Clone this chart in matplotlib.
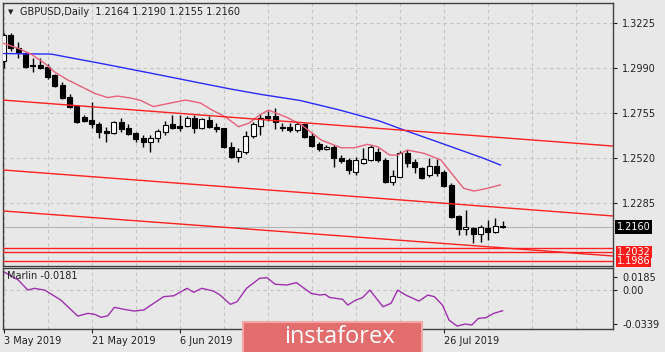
import matplotlib
matplotlib.use("Agg")
import matplotlib.pyplot as plt
from matplotlib.patches import Rectangle
from matplotlib.transforms import blended_transform_factory

# GBPUSD daily candles, 3 May 2019 .. 7 Aug 2019
opens = [1.3028, 1.3164, 1.3096, 1.3070, 1.3007, 1.3007, 1.2997, 1.2955, 1.2903, 1.2840,
         1.2793, 1.2735, 1.2720, 1.2699, 1.2662, 1.2652, 1.2709, 1.2678, 1.2652, 1.2627,
         1.2605, 1.2626, 1.2657, 1.2699, 1.2688, 1.2690, 1.2732, 1.2678, 1.2720, 1.2682,
         1.2677, 1.2580, 1.2528, 1.2551, 1.2638, 1.2690, 1.2742, 1.2742, 1.2685, 1.2685,
         1.2668, 1.2697, 1.2638, 1.2593, 1.2567, 1.2580, 1.2523, 1.2511, 1.2450, 1.2494,
         1.2511, 1.2554, 1.2511, 1.2398, 1.2424, 1.2549, 1.2499, 1.2468, 1.2433, 1.2480,
         1.2450, 1.2381, 1.2219, 1.2149, 1.2155, 1.2125, 1.2155, 1.2137, 1.2164]
highs = [1.3174, 1.3174, 1.3127, 1.3075, 1.3044, 1.3044, 1.3012, 1.2960, 1.2918, 1.2856,
         1.2798, 1.2746, 1.2814, 1.2709, 1.2683, 1.2714, 1.2730, 1.2699, 1.2657, 1.2641,
         1.2641, 1.2673, 1.2714, 1.2746, 1.2746, 1.2742, 1.2746, 1.2732, 1.2742, 1.2704,
         1.2678, 1.2603, 1.2574, 1.2662, 1.2711, 1.2751, 1.2767, 1.2782, 1.2704, 1.2702,
         1.2709, 1.2704, 1.2652, 1.2603, 1.2589, 1.2589, 1.2537, 1.2520, 1.2528, 1.2572,
         1.2589, 1.2572, 1.2520, 1.2459, 1.2560, 1.2563, 1.2515, 1.2476, 1.2520, 1.2515,
         1.2459, 1.2389, 1.2224, 1.2250, 1.2163, 1.2172, 1.2198, 1.2207, 1.2190]
lows = [1.2991, 1.3080, 1.3044, 1.2991, 1.2970, 1.2988, 1.2934, 1.2892, 1.2832, 1.2782,
        1.2704, 1.2709, 1.2678, 1.2626, 1.2605, 1.2647, 1.2657, 1.2644, 1.2605, 1.2579,
        1.2553, 1.2605, 1.2641, 1.2673, 1.2662, 1.2685, 1.2652, 1.2673, 1.2677, 1.2659,
        1.2574, 1.2520, 1.2502, 1.2541, 1.2627, 1.2641, 1.2714, 1.2673, 1.2662, 1.2657,
        1.2659, 1.2628, 1.2580, 1.2558, 1.2563, 1.2476, 1.2494, 1.2436, 1.2433, 1.2489,
        1.2506, 1.2502, 1.2389, 1.2381, 1.2421, 1.2473, 1.2445, 1.2410, 1.2424, 1.2427,
        1.2369, 1.2207, 1.2120, 1.2120, 1.2076, 1.2085, 1.2093, 1.2132, 1.2155]
closes = [1.3164, 1.3096, 1.3075, 1.2997, 1.3004, 1.2991, 1.2944, 1.2897, 1.2835, 1.2788,
          1.2709, 1.2714, 1.2699, 1.2657, 1.2652, 1.2709, 1.2673, 1.2647, 1.2621, 1.2607,
          1.2626, 1.2662, 1.2694, 1.2678, 1.2678, 1.2732, 1.2677, 1.2725, 1.2682, 1.2671,
          1.2580, 1.2528, 1.2558, 1.2638, 1.2697, 1.2729, 1.2732, 1.2711, 1.2677, 1.2668,
          1.2697, 1.2633, 1.2586, 1.2568, 1.2577, 1.2520, 1.2507, 1.2459, 1.2511, 1.2516,
          1.2580, 1.2511, 1.2398, 1.2427, 1.2549, 1.2497, 1.2473, 1.2415, 1.2480, 1.2445,
          1.2375, 1.2212, 1.2149, 1.2160, 1.2125, 1.2160, 1.2137, 1.2166, 1.2160]

# date labels; the ones under the watermark are not visible in the picture
date_ticks = [0, 12, 24, 36, 48, 60]
date_labels = ["3 May 2019", "21 May 2019", "6 Jun 2019", "", "", "26 Jul 2019"]
price_ticks = [1.3225, 1.2990, 1.2755, 1.2520, 1.2285]

# moving averages, sampled along the drawn lines (bar index, price)
ma_blue_x = [0, 6.5, 13.3, 20, 26.8, 30.9, 35, 40.4, 45.8, 51.2, 54.6, 59.7, 65.4, 67.7]
ma_blue_y = [1.3067, 1.3064, 1.3015, 1.2965, 1.2913, 1.2882, 1.2854, 1.2822, 1.2772,
             1.2715, 1.2667, 1.2598, 1.2520, 1.2485]
ma_pink_x = [0, 2.0, 3.8, 5.6, 6.9, 8.75, 10.6, 12.4, 14.2, 15.5, 17.3, 18.7, 20.4, 22.8,
             24.8, 26.8, 28.4, 30.2, 32.0, 33.4, 34.9, 36.1, 37.2, 38.8, 40.6, 43.3, 46.0,
             47.8, 49.6, 51.0, 52.6, 53.7, 55.0, 57.3, 59.6, 61.4, 62.7, 64.1, 65.9, 67.7]
ma_pink_y = [1.3120, 1.3094, 1.3063, 1.3016, 1.2972, 1.2929, 1.2894, 1.2859, 1.2837,
             1.2845, 1.2835, 1.2822, 1.2790, 1.2809, 1.2824, 1.2809, 1.2772, 1.2737,
             1.2685, 1.2703, 1.2746, 1.2772, 1.2755, 1.2730, 1.2694, 1.2615, 1.2575,
             1.2575, 1.2593, 1.2580, 1.2537, 1.2537, 1.2563, 1.2546, 1.2511, 1.2424,
             1.2363, 1.2349, 1.2363, 1.2381]

# channel lines: price at the left edge and at the right edge of the chart
channel_left = [1.2824, 1.2459, 1.2245]
channel_right = [1.2584, 1.2219, 1.2010]
levels = [1.2053, 1.2032, 1.1986]
level_tags = [1.2032, 1.1986]

# Marlin oscillator (bar index, value)
marlin_x = [0, 2.0, 3.3, 4.2, 5.6, 7.8, 10.1, 11.5, 12.4, 13.3, 14.2, 15.1, 16.4, 17.8,
            19.1, 21.8, 23.2, 25.0, 25.9, 27.0, 28.6, 29.5, 30.9, 31.8, 33.1, 34.9, 35.9,
            37.0, 38.6, 39.9, 41.9, 43.1, 43.8, 44.4, 46.2, 46.9, 48.0, 48.9, 49.9, 51.7,
            52.8, 53.7, 54.8, 56.6, 57.8, 58.7, 59.8, 60.7, 61.8, 62.9, 63.8, 64.7, 65.7,
            66.8, 68]
marlin_y = [0.0156, 0.0084, -0.0003, 0.0012, -0.0003, -0.0089, -0.0227, -0.0204, -0.0212,
            -0.0238, -0.0225, -0.0152, -0.0169, -0.0184, -0.0175, -0.0060, -0.0052, 0.0012,
            -0.0022, 0.0012, -0.0011, -0.0046, -0.0126, -0.0104, 0.0012, 0.0099, 0.0104,
            0.0047, 0.0041, 0.0061, -0.0031, -0.0046, -0.0040, -0.0066, -0.0083, -0.0132,
            -0.0089, -0.0069, -0.0003, -0.0147, -0.0117, -0.0003, -0.0046, -0.0098, -0.0046,
            -0.0060, -0.0132, -0.0262, -0.0314, -0.0296, -0.0305, -0.0247, -0.0242, -0.0204,
            -0.0181]

BG = "#e8e8e8"
GRID = "#c4c4c4"
plt.rcParams["font.family"] = "DejaVu Sans"
plt.rcParams["font.size"] = 7

W, H = 665, 352
fig = plt.figure(figsize=(W / 100, H / 100), dpi=100, facecolor=BG)
ax = fig.add_axes([3 / W, 1 - 265.5 / H, 609.7 / W, 262.8 / H], facecolor=BG)
sub = fig.add_axes([3 / W, 1 - 329 / H, 609.7 / W, 60.7 / H], facecolor=BG)

x_left, x_right = -0.08, 83.0

# grid
for a in (ax, sub):
    a.set_xlim(x_left, x_right)
    a.set_xticks(range(0, 84, 6), minor=True)
    a.set_xticks(date_ticks)
    a.grid(True, which="both", axis="x", color=GRID, lw=0.8, ls=(0, (3, 3)))
    for s in a.spines.values():
        s.set_color("#404040")
        s.set_linewidth(1)
    a.tick_params(which="minor", length=0)
    a.yaxis.tick_right()

ax.set_ylim(1.19602, 1.33325)
ax.set_yticks(price_ticks)
ax.set_yticklabels(["%.4f" % p for p in price_ticks])
ax.grid(True, axis="y", color=GRID, lw=0.8, ls=(0, (3, 3)))
ax.tick_params(axis="x", which="both", length=0, labelbottom=False)
ax.tick_params(axis="y", length=3, width=0.8, pad=4, colors="#202020")

# candles
n = len(opens)
xs = list(range(n))
ax.vlines(xs, lows, highs, color="black", lw=1, zorder=3)
bottoms = [min(o, c) for o, c in zip(opens, closes)]
heights = [max(abs(c - o), 0.00004) for o, c in zip(opens, closes)]
faces = ["white" if c > o else "black" for o, c in zip(opens, closes)]
ax.bar(xs, heights, bottom=bottoms, width=0.68, color=faces, edgecolor="black",
       linewidth=0.8, zorder=4)

# moving averages
ax.plot(ma_blue_x, ma_blue_y, color="#2a2aff", lw=1, zorder=5)
ax.plot(ma_pink_x, ma_pink_y, color="#e8607a", lw=1, zorder=5)

# channel lines and levels
for p0, p1 in zip(channel_left, channel_right):
    ax.plot([x_left, x_right], [p0, p1], color="#ff2020", lw=1, zorder=5)
for lv in levels:
    ax.axhline(lv, color="#ff2020", lw=1, zorder=5)

# bid line
bid = closes[-1]
ax.axhline(bid, color="#b4b4b4", lw=0.8, zorder=1)

# price tags on the right
tr = blended_transform_factory(ax.transAxes, ax.transData)
tag_x = 1 + 4 / 609.7
ax.text(tag_x, bid, "%.4f" % bid, transform=tr, color="white", va="center", ha="left",
        bbox=dict(boxstyle="square,pad=0.2", fc="black", ec="none"), clip_on=False)
for lv in level_tags:
    ax.text(tag_x, lv, "%.4f" % lv, transform=tr, color="white", va="center", ha="left",
            bbox=dict(boxstyle="square,pad=0.1", fc="#ff1a1a", ec="none"), clip_on=False)

# title
fig.text(8 / W, 1 - 12 / H, "\u25bc", fontsize=5, va="center", ha="left", color="#202020")
fig.text(20 / W, 1 - 12 / H, "GBPUSD,Daily  %.4f %.4f %.4f %.4f"
         % (opens[-1], highs[-1], lows[-1], closes[-1]),
         va="center", ha="left", color="#202020")

# Marlin subwindow
sub.set_ylim(-0.0339, 0.0185)
sub.plot(marlin_x, marlin_y, color="#a030b0", lw=1)
sub.set_yticks([0.0107, 0.0, -0.0296])
sub.set_yticklabels(["0.0185", "0.00", "-0.0339"])
sub.axhline(0, color=GRID, lw=0.8, ls=(0, (3, 3)), zorder=0)
sub.tick_params(axis="y", length=3, width=0.8, pad=4, colors="#202020")
sub.tick_params(axis="x", which="major", length=3, width=0.8, pad=2, colors="#202020")
sub.set_xticklabels(date_labels)
for lab in sub.get_xticklabels():
    lab.set_horizontalalignment("left")
sub.text(4 / 609.7, 0.873, "Marlin %.4f" % marlin_y[-1], transform=sub.transAxes,
         va="center", ha="left", color="#202020")

# watermark
fig.add_artist(Rectangle((243 / W, -0.01), 179 / W, 33.5 / H, transform=fig.transFigure,
                         fc="#e36c6c", ec="#f2a8a8", lw=1.5))
fig.text(339 / W, 1 - 337 / H, "instaforex", color="white", fontsize=17,
         va="center", ha="center", family="Open Sans")

fig.savefig("out.png", dpi=100, facecolor=BG)
plt.close(fig)
